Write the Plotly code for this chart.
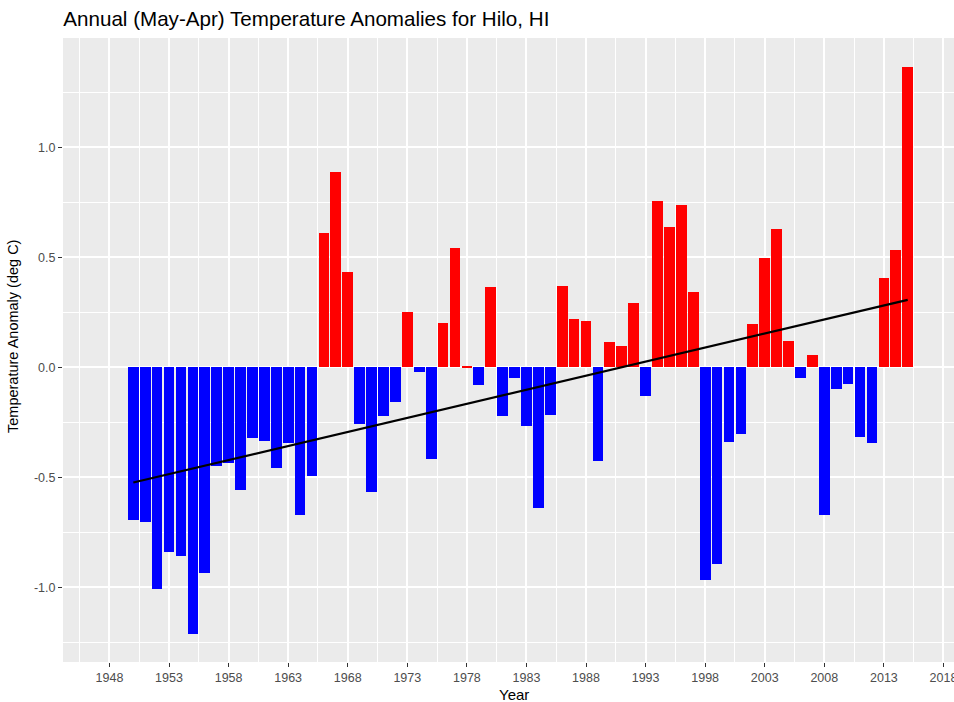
import numpy as np
import plotly.graph_objects as go

years = list(range(1950, 2016))
anomalies = [
    -0.696, -0.704, -1.009, -0.840, -0.859, -1.212, -0.934, -0.449, -0.435, -0.558,
    -0.323, -0.334, -0.457, -0.344, -0.670, -0.494, 0.609, 0.890, 0.435, -0.256,
    -0.569, -0.221, -0.160, 0.252, -0.021, -0.417, 0.203, 0.544, 0.003, -0.082,
    0.365, -0.223, -0.049, -0.268, -0.642, -0.217, 0.369, 0.221, 0.212, -0.424,
    0.117, 0.096, 0.290, -0.130, 0.757, 0.637, 0.739, 0.343, -0.965, -0.894,
    -0.339, -0.303, 0.197, 0.497, 0.630, 0.118, -0.047, 0.057, -0.673, -0.099,
    -0.078, -0.317, -0.343, 0.405, 0.532, 1.363,
]
x_ticks = list(range(1948, 2019, 5))
y_ticks = [-1.0, -0.5, 0.0, 0.5, 1.0]
y_tick_labels = ["-1.0", "-0.5", "0.0", "0.5", "1.0"]

colors = ["#FF0000" if v > 0 else "#0000FF" for v in anomalies]

slope, intercept = np.polyfit(years, anomalies, 1)
trend_x = [years[0], years[-1]]
trend_y = [slope * x + intercept for x in trend_x]

fig = go.Figure()
fig.add_trace(go.Bar(
    x=years, y=anomalies, width=0.9,
    marker=dict(color=colors, line=dict(width=0)),
    showlegend=False, hoverinfo="x+y",
))
fig.add_trace(go.Scatter(
    x=trend_x, y=trend_y, mode="lines",
    line=dict(color="black", width=2.2),
    showlegend=False,
))

W, H = 954, 702
L, R, T = 63.3, 0, 37.7
B = H - 661.7
PW, PH = W - L - R, H - T - B
PX_PER_YEAR = 11.91
X0 = 1944.1
X1 = X0 + PW / PX_PER_YEAR

fig.update_layout(
    width=W, height=H,
    margin=dict(l=L, r=R, t=T, b=B, autoexpand=False),
    paper_bgcolor="white",
    plot_bgcolor="#EBEBEB",
    font=dict(family="Liberation Sans, Arial, sans-serif", color="#4D4D4D"),
    title=dict(
        text="Annual (May-Apr) Temperature Anomalies for Hilo, HI",
        x=L / W, xanchor="left", xref="container",
        y=1 - 18.5 / H, yanchor="middle", yref="container",
        font=dict(size=20.6, color="black"),
    ),
    bargap=0,
    xaxis=dict(
        range=[X0, X1],
        tickmode="array", tickvals=x_ticks, ticktext=[str(v) for v in x_ticks],
        ticks="outside", ticklen=4, tickwidth=1.1, tickcolor="#333333",
        tickfont=dict(size=12.5, color="#4D4D4D"),
        ticklabeloverflow="allow",
        showgrid=True, gridcolor="white", gridwidth=1.6,
        minor=dict(tickmode="array",
                   tickvals=[v + 2.5 for v in range(1938, 2024, 5)],
                   showgrid=True, gridcolor="white", gridwidth=0.8, ticks=""),
        zeroline=False, showline=False, fixedrange=True,
        automargin=False,
    ),
    yaxis=dict(
        range=[-1.340, 1.497],
        tickmode="array", tickvals=y_ticks, ticktext=y_tick_labels,
        ticks="outside", ticklen=4, tickwidth=1.1, tickcolor="#333333",
        tickfont=dict(size=12.5, color="#4D4D4D"),
        showgrid=True, gridcolor="white", gridwidth=1.6,
        minor=dict(tickmode="array",
                   tickvals=[-1.25, -0.75, -0.25, 0.25, 0.75, 1.25],
                   showgrid=True, gridcolor="white", gridwidth=0.8, ticks=""),
        zeroline=False, showline=False, fixedrange=True,
        automargin=False,
    ),
    annotations=[
        dict(
            text="Temperature Anomaly (deg C)", textangle=-90,
            xref="paper", yref="paper",
            x=-(L - 14) / PW, xanchor="center",
            y=(H - B - 336) / PH, yanchor="middle",
            showarrow=False, font=dict(size=14.5, color="black"),
        ),
        dict(
            text="Year",
            xref="paper", yref="paper",
            x=(514 - L) / PW, xanchor="center",
            y=-(694 - (H - B)) / PH, yanchor="middle",
            showarrow=False, font=dict(size=15, color="black"),
        ),
    ],
)

fig.write_html(
    "out.html",
    config={"displayModeBar": False},
    post_script="document.body.style.margin='0';document.body.style.overflow='hidden';",
)
